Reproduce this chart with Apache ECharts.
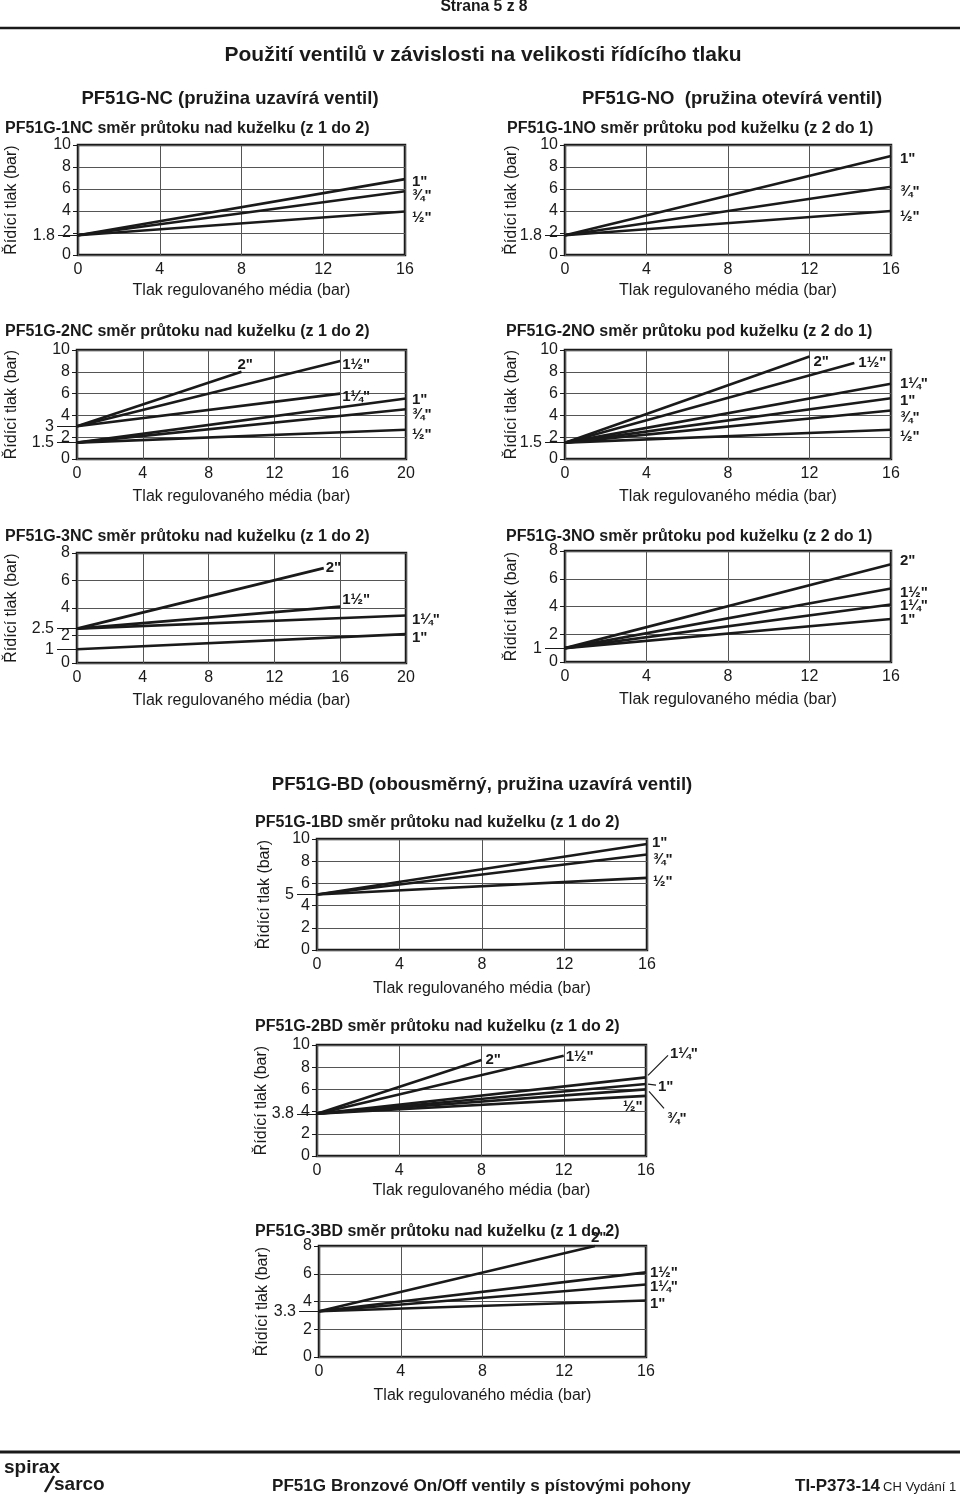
<!DOCTYPE html>
<html><head><meta charset="utf-8">
<script src="https://cdn.jsdelivr.net/npm/echarts@6/dist/echarts.min.js"></script>
<style>html,body{margin:0;padding:0;background:#fff}#c{width:960px;height:1497px}</style>
</head><body><div id="c"></div>
<script>
// ---------------- DATA ----------------
const xTicks16 = [0, 4, 8, 12, 16];
const xTicks20 = [0, 4, 8, 12, 16, 20];
const yTicks10 = [0, 2, 4, 6, 8, 10];
const yTicks8 = [0, 2, 4, 6, 8];

// PF51G-1NC
const nc1Sizes = ['1"', '¾"', '½"'];
const nc1StartY = [1.8, 1.8, 1.8];
const nc1EndX = [16, 16, 16];
const nc1EndY = [6.9, 5.8, 3.95];
const nc1Marks = [1.8];
// PF51G-1NO
const no1Sizes = ['1"', '¾"', '½"'];
const no1StartY = [1.8, 1.8, 1.8];
const no1EndX = [16, 16, 16];
const no1EndY = [9.0, 6.2, 4.0];
const no1Marks = [1.8];
// PF51G-2NC
const nc2Sizes = ['2"', '1½"', '1¼"', '1"', '¾"', '½"'];
const nc2StartY = [3, 3, 3, 1.5, 1.5, 1.5];
const nc2EndX = [10, 16, 16, 20, 20, 20];
const nc2EndY = [8.0, 9.0, 6.0, 5.55, 4.57, 2.68];
const nc2Marks = [3, 1.5];
// PF51G-2NO
const no2Sizes = ['2"', '1½"', '1¼"', '1"', '¾"', '½"'];
const no2StartY = [1.5, 1.5, 1.5, 1.5, 1.5, 1.5];
const no2EndX = [12, 14.2, 16, 16, 16, 16];
const no2EndY = [9.4, 8.8, 6.9, 5.58, 4.45, 2.68];
const no2Marks = [1.5];
// PF51G-3NC
const nc3Sizes = ['2"', '1½"', '1¼"', '1"'];
const nc3StartY = [2.5, 2.5, 2.5, 1];
const nc3EndX = [15, 16, 20, 20];
const nc3EndY = [6.9, 4.1, 3.45, 2.1];
const nc3Marks = [2.5, 1];
// PF51G-3NO
const no3Sizes = ['2"', '1½"', '1¼"', '1"'];
const no3StartY = [1, 1, 1, 1];
const no3EndX = [16, 16, 16, 16];
const no3EndY = [7.05, 5.3, 4.15, 3.1];
const no3Marks = [1];
// PF51G-1BD
const bd1Sizes = ['1"', '¾"', '½"'];
const bd1StartY = [5, 5, 5];
const bd1EndX = [16, 16, 16];
const bd1EndY = [9.55, 8.6, 6.5];
const bd1Marks = [5];
// PF51G-2BD
const bd2Sizes = ['2"', '1½"', '1¼"', '1"', '¾"', '½"'];
const bd2StartY = [3.8, 3.8, 3.8, 3.8, 3.8, 3.8];
const bd2EndX = [8, 12, 16, 16, 16, 16];
const bd2EndY = [8.64, 9.04, 7.08, 6.48, 6.0, 5.42];
const bd2Marks = [3.8];
// PF51G-3BD
const bd3Sizes = ['2"', '1½"', '1¼"', '1"'];
const bd3StartY = [3.3, 3.3, 3.3, 3.3];
const bd3EndX = [13.5, 16, 16, 16];
const bd3EndY = [8.0, 6.1, 5.23, 4.07];
const bd3Marks = [3.3];

const xName = 'Tlak regulovaného média (bar)';
const yName = 'Řídící tlak (bar)';

const dataSets = [
  {title: 'PF51G-1NC směr průtoku nad kuželku (z 1 do 2)', sizes: nc1Sizes, startY: nc1StartY, endX: nc1EndX, endY: nc1EndY, marks: nc1Marks, xTicks: xTicks16, yTicks: yTicks10},
  {title: 'PF51G-1NO směr průtoku pod kuželku (z 2 do 1)', sizes: no1Sizes, startY: no1StartY, endX: no1EndX, endY: no1EndY, marks: no1Marks, xTicks: xTicks16, yTicks: yTicks10},
  {title: 'PF51G-2NC směr průtoku nad kuželku (z 1 do 2)', sizes: nc2Sizes, startY: nc2StartY, endX: nc2EndX, endY: nc2EndY, marks: nc2Marks, xTicks: xTicks20, yTicks: yTicks10},
  {title: 'PF51G-2NO směr průtoku pod kuželku (z 2 do 1)', sizes: no2Sizes, startY: no2StartY, endX: no2EndX, endY: no2EndY, marks: no2Marks, xTicks: xTicks16, yTicks: yTicks10},
  {title: 'PF51G-3NC směr průtoku nad kuželku (z 1 do 2)', sizes: nc3Sizes, startY: nc3StartY, endX: nc3EndX, endY: nc3EndY, marks: nc3Marks, xTicks: xTicks20, yTicks: yTicks8},
  {title: 'PF51G-3NO směr průtoku pod kuželku (z 2 do 1)', sizes: no3Sizes, startY: no3StartY, endX: no3EndX, endY: no3EndY, marks: no3Marks, xTicks: xTicks16, yTicks: yTicks8},
  {title: 'PF51G-1BD směr průtoku nad kuželku (z 1 do 2)', sizes: bd1Sizes, startY: bd1StartY, endX: bd1EndX, endY: bd1EndY, marks: bd1Marks, xTicks: xTicks16, yTicks: yTicks10},
  {title: 'PF51G-2BD směr průtoku nad kuželku (z 1 do 2)', sizes: bd2Sizes, startY: bd2StartY, endX: bd2EndX, endY: bd2EndY, marks: bd2Marks, xTicks: xTicks16, yTicks: yTicks10},
  {title: 'PF51G-3BD směr průtoku nad kuželku (z 1 do 2)', sizes: bd3Sizes, startY: bd3StartY, endX: bd3EndX, endY: bd3EndY, marks: bd3Marks, xTicks: xTicks16, yTicks: yTicks8}
];

// ---------------- LAYOUT / STYLE ----------------
const layouts = [
  {grid: {left: 78, top: 145, width: 327, height: 110}, titlePos: [5, 129], yGap: 58, xGap: 28, lab: [[7, 2.5], [7, 5], [7, 6]]},
  {grid: {left: 565, top: 145, width: 326, height: 110}, titlePos: [507, 129], yGap: 45, xGap: 28, lab: [[9, 3], [9, 5], [9, 6]]},
  {grid: {left: 77, top: 350, width: 329, height: 109}, titlePos: [5, 332], yGap: 57, xGap: 30, lab: [[-4, -7], [2, 4], [2, 3], [6, 1], [6, 6], [6, 5]]},
  {grid: {left: 565, top: 350, width: 326, height: 109}, titlePos: [506, 332], yGap: 45, xGap: 30, lab: [[4, 5], [4, 0], [9, 0], [9, 3], [9, 7], [9, 7]]},
  {grid: {left: 77, top: 553, width: 329, height: 110}, titlePos: [5, 537], yGap: 57, xGap: 30, lab: [[2, 0], [2, -7], [6, 4], [6, 4]]},
  {grid: {left: 565, top: 551, width: 326, height: 111}, titlePos: [506, 537], yGap: 45, xGap: 30, lab: [[9, -3], [9, 4], [9, 1], [9, 1]]},
  {grid: {left: 317, top: 839, width: 330, height: 111}, titlePos: [255, 823], yGap: 44, xGap: 31, lab: [[5, -1], [6, 5], [6, 4]]},
  {grid: {left: 317, top: 1045, width: 329, height: 111}, titlePos: [255, 1027], yGap: 47, xGap: 27,
   lab: [[4, 0], [2, 1], [24, -24], [12, 3], [21, 29], [-23, 11]],
   leaders: {2: [[2, -2], [22, -22]], 3: [[2, 0], [10, 1]], 4: [[3, 2], [18, 19]]}},
  {grid: {left: 319, top: 1246, width: 327, height: 111}, titlePos: [255, 1232], yGap: 48, xGap: 31, lab: [[-4, -8], [4, 0], [4, 2], [4, 3]]}
];

const FONT = '"Liberation Sans", Arial, Helvetica, sans-serif';
const INK = '#1a1a1a';

const chart = echarts.init(document.getElementById('c'), null, {renderer: 'canvas', width: 960, height: 1497});

const grid = [], xAxis = [], yAxis = [], series = [];
const seriesMap = [];
dataSets.forEach((d, i) => {
  const L = layouts[i];
  grid.push(Object.assign({show: true, borderColor: INK, borderWidth: 2.5, backgroundColor: 'transparent', containLabel: false, outerBoundsMode: 'none'}, L.grid));
  const xMin = d.xTicks[0], xMax = d.xTicks[d.xTicks.length - 1], xInt = d.xTicks[1] - d.xTicks[0];
  const yMin = d.yTicks[0], yMax = d.yTicks[d.yTicks.length - 1], yInt = d.yTicks[1] - d.yTicks[0];
  xAxis.push({
    type: 'value', gridIndex: i, min: xMin, max: xMax, interval: xInt,
    name: xName, nameLocation: 'middle', nameGap: L.xGap, nameMoveOverlap: false,
    nameTextStyle: {fontSize: 16, color: INK, fontFamily: FONT},
    axisLine: {show: false}, axisTick: {show: false},
    axisLabel: {margin: 7, fontSize: 16, color: INK, fontFamily: FONT, showMinLabel: true, showMaxLabel: true, hideOverlap: false},
    splitLine: {show: true, lineStyle: {color: '#555', width: 1}}
  });
  yAxis.push({
    type: 'value', gridIndex: i, position: 'left', min: yMin, max: yMax, interval: yInt,
    name: yName, nameLocation: 'middle', nameGap: L.yGap, nameRotate: 90, nameMoveOverlap: false,
    nameTextStyle: {fontSize: 16, color: INK, fontFamily: FONT},
    axisLine: {show: false},
    axisTick: {show: true, length: 5, lineStyle: {color: INK, width: 1}},
    axisLabel: {margin: 7, fontSize: 16, color: INK, fontFamily: FONT, showMinLabel: true, showMaxLabel: true, hideOverlap: false},
    splitLine: {show: true, lineStyle: {color: '#555', width: 1}}
  });
  yAxis.push({
    type: 'value', gridIndex: i, position: 'left', min: yMin, max: yMax,
    axisLine: {show: false}, splitLine: {show: false},
    axisTick: {show: true, customValues: d.marks, length: 20, lineStyle: {color: INK, width: 1}},
    axisLabel: {show: true, customValues: d.marks, margin: 23, fontSize: 16, color: INK, fontFamily: FONT, hideOverlap: false}
  });
  d.sizes.forEach((s, j) => {
    seriesMap.push([i, j, series.length]);
    series.push({
      type: 'line', name: s, xAxisIndex: i, yAxisIndex: 2 * i,
      data: [[xMin, d.startY[j]], [d.endX[j], d.endY[j]]],
      symbol: 'none', silent: true, clip: false,
      lineStyle: {color: INK, width: 2.6}
    });
  });
});

chart.setOption({
  animation: false,
  backgroundColor: '#fff',
  textStyle: {fontFamily: FONT},
  grid, xAxis, yAxis, series
});

// ---------------- TEXT / ANNOTATIONS ----------------
function txt(text, x, y, font, align) {
  return {type: 'text', x: x, y: y, silent: true,
    style: {text: text, font: font, fill: INK, textAlign: align || 'left', align: align || 'left', textVerticalAlign: 'middle', verticalAlign: 'middle'}};
}
function ln(x1, y1, x2, y2, w) {
  return {type: 'line', silent: true, shape: {x1, y1, x2, y2}, style: {stroke: INK, lineWidth: w}};
}

const g = [];
g.push(txt('Strana 5 z 8', 484, 7, 'bold 15.7px ' + FONT, 'center'));
g.push(ln(0, 28, 960, 28, 2.5));
g.push(txt('Použití ventilů v závislosti na velikosti řídícího tlaku', 483, 55, 'bold 21px ' + FONT, 'center'));
g.push(txt('PF51G-NC (pružina uzavírá ventil)', 230, 99, 'bold 18.5px ' + FONT, 'center'));
g.push(txt('PF51G-NO  (pružina otevírá ventil)', 732, 99, 'bold 18.5px ' + FONT, 'center'));
g.push(txt('PF51G-BD (obousměrný, pružina uzavírá ventil)', 482, 785, 'bold 18.6px ' + FONT, 'center'));

dataSets.forEach((d, i) => {
  const L = layouts[i];
  g.push(txt(d.title, L.titlePos[0], L.titlePos[1], 'bold 16px ' + FONT, 'left'));
});

seriesMap.forEach(([i, j, k]) => {
  const d = dataSets[i], L = layouts[i];
  const p = chart.convertToPixel({seriesIndex: k}, [d.endX[j], d.endY[j]]);
  const o = L.lab[j];
  g.push(txt(d.sizes[j], p[0] + o[0], p[1] + o[1], 'bold 15px ' + FONT, 'left'));
  if (L.leaders && L.leaders[j]) {
    const a = L.leaders[j][0], b = L.leaders[j][1];
    g.push(ln(p[0] + a[0], p[1] + a[1], p[0] + b[0], p[1] + b[1], 1.2));
  }
});

// footer
g.push(ln(0, 1452, 960, 1452, 3));
g.push(txt('spirax', 4, 1468, 'bold 19px ' + FONT, 'left'));
g.push(ln(45, 1492, 54, 1476, 2.5));
g.push(txt('sarco', 54, 1485, 'bold 19px ' + FONT, 'left'));
g.push(txt('PF51G Bronzové On/Off ventily s pístovými pohony', 272, 1486, 'bold 17.1px ' + FONT, 'left'));
g.push(txt('TI-P373-14', 795, 1486, 'bold 17px ' + FONT, 'left'));
g.push(txt('CH Vydání 1', 883, 1487, '13px ' + FONT, 'left'));

chart.setOption({graphic: {elements: g}});
</script>
</body></html>
